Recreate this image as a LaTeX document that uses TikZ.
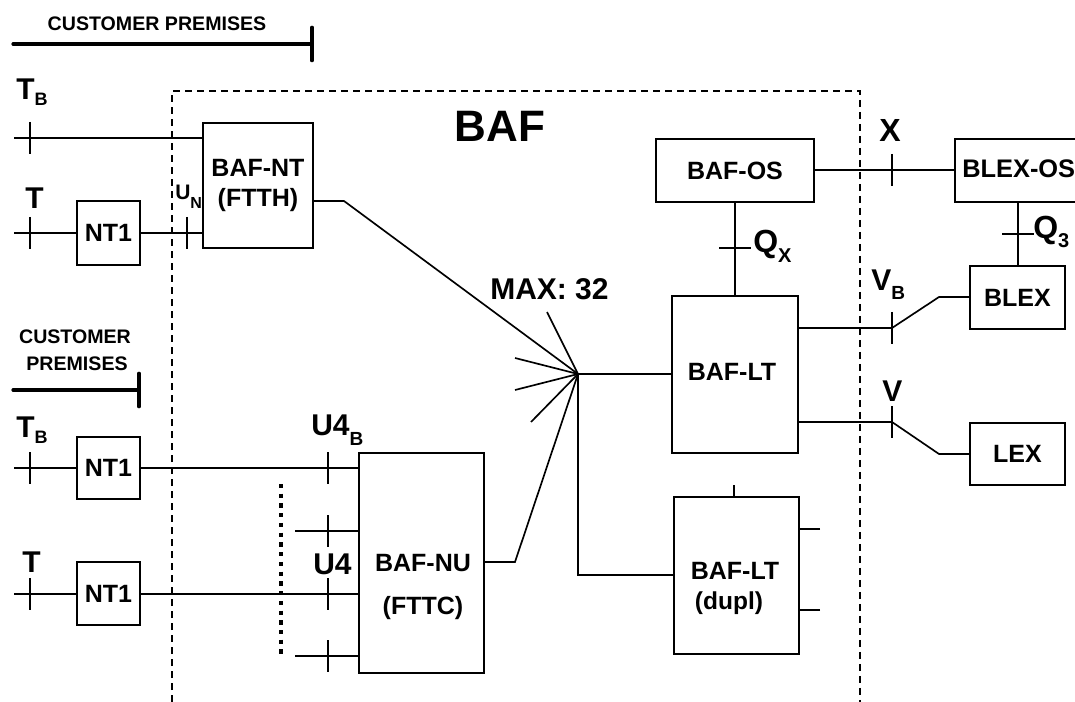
\documentclass[tikz,border=0pt]{standalone}
\usepackage{fontspec}
\setmainfont{Liberation Sans}[BoldFont={Liberation Sans Bold}]
\newcommand{\fpx}[1]{\fontsize{\dimexpr #1pt*3/4\relax}{\dimexpr #1pt*9/10\relax}\selectfont\bfseries}
\newcommand{\lsub}[3][6]{\raisebox{-\dimexpr #1pt*3/4\relax}{\fpx{#3}#2}}
\tikzset{
  x=0.75pt,y=-0.75pt,
  conn/.style={line width=1.25pt,line cap=butt,line join=miter},
  thickln/.style={line width=2.4pt,line cap=round},
  box/.style={draw,line width=1.3pt,inner sep=0pt,align=center,font=\fpx{25}},
  lab/.style={anchor=base west,inner sep=0pt},
  txt/.style={inner sep=0pt,align=center},
  tickln/.style={line width=1.2pt},
  bafline/.style={line width=1.1pt,dash pattern=on 5.2pt off 3.8pt},
  dotline/.style={line width=3pt,dash pattern=on 3.2pt off 4.1pt}
}
% name, x1, y1, width, height, text
\newcommand{\bx}[6]{\node[box,minimum width=0.75pt*#4,minimum height=0.75pt*#5] (#1) at (#2+#4/2,#3+#5/2) {#6};}
% vertical tick at a named point
\newcommand{\vtick}[3]{\coordinate (#1) at (#2,#3); \draw[tickln] ([yshift=12pt]#1) -- ([yshift=-12pt]#1);}
\begin{document}
\begin{tikzpicture}
\clip (0,0) rectangle (1075,702);
\fill[white] (0,0) rectangle (1075,702);

% BAF boundary
\coordinate (bafA) at (172,702);
\coordinate (bafB) at (172,91);
\coordinate (bafC) at (860,91);
\coordinate (bafD) at (860,702);
\draw[bafline] (bafA) -- (bafB) -- (bafC) -- (bafD);
\node[txt,font=\fpx{44}] (baftitle) at (500,126) {BAF};

% customer premises markers
\node[txt,font=\fpx{19.6}] (cp1) at (157,24) {CUSTOMER PREMISES};
\coordinate (cp1a) at (13,44); \coordinate (cp1b) at (312,44);
\draw[thickln] (cp1a) -- (cp1b);
\draw[thickln] ([yshift=12.5pt]cp1b) -- ([yshift=-12.5pt]cp1b);
\node[txt,font=\fpx{19.6}] (cp2a) at (75,337) {CUSTOMER};
\node[txt,font=\fpx{19.6}] (cp2b) at (77,364) {PREMISES};
\coordinate (cp2s) at (13,390); \coordinate (cp2e) at (139,390);
\draw[thickln] (cp2s) -- (cp2e);
\draw[thickln] ([yshift=12.5pt]cp2e) -- ([yshift=-12.5pt]cp2e);

% boxes
\bx{bafnt}{203}{123}{110}{125}{BAF-NT\\[0.1pt](FTTH)}
\bx{ntA}{77}{201}{63}{64}{NT1}
\bx{ntB}{77}{437}{63}{62}{NT1}
\bx{ntC}{77}{562}{63}{63}{NT1}
\bx{nu}{359}{453}{125}{220}{}
\bx{ltA}{672}{296}{126}{157}{}
\bx{ltB}{674}{497}{125}{157}{}
\bx{os}{656}{139}{158}{63}{BAF-OS}
\bx{blexos}{955}{139}{140}{63}{}
\bx{blex}{970}{266}{95}{63}{BLEX}
\bx{lex}{970}{423}{95}{62}{LEX}
\node[txt,font=\fpx{25}] (nutA) at (423,563) {BAF-NU};
\node[txt,font=\fpx{25}] (nutB) at (423,608) {(FTTC)};
\node[txt,font=\fpx{25}] (ltAt) at (732,372) {BAF-LT};
\node[txt,font=\fpx{25}] (ltBt) at (735,571) {BAF-LT};
\node[txt,font=\fpx{24.5}] (ltBd) at (729,603) {(dupl)};
\node[anchor=west,inner sep=0pt,font=\fpx{25.4}] (blexost) at (962,169) {BLEX-OS};

% T_B to BAF-NT
\vtick{tb1}{30}{138}
\coordinate (tb1s) at (14,138);
\draw[conn] (tb1s) -- (tb1s -| bafnt.west);
% T, NT1, U_N, BAF-NT
\vtick{t1}{30}{233}
\coordinate (t1s) at (14,233);
\draw[conn] (t1s) -- (t1s -| ntA.west);
\vtick{un}{187}{233}
\draw[conn] (un -| ntA.east) -- (un -| bafnt.west);

% T_B lower
\vtick{tb2}{30}{468}
\coordinate (tb2s) at (14,468);
\draw[conn] (tb2s) -- (tb2s -| ntB.west);
\vtick{u4b}{328}{468}
\draw[conn] (u4b -| ntB.east) -- (u4b -| nu.west);
% spare
\vtick{u4x}{328}{531}
\coordinate (u4xs) at (295,531);
\draw[conn] (u4xs) -- (u4xs -| nu.west);
% T lower
\vtick{t2}{30}{594}
\coordinate (t2s) at (14,594);
\draw[conn] (t2s) -- (t2s -| ntC.west);
\vtick{u4}{328}{594}
\draw[conn,line width=1.6pt] (u4 -| ntC.east) -- (u4 -| nu.west);
\vtick{u4y}{328}{656}
\coordinate (u4ys) at (295,656);
\draw[conn] (u4ys) -- (u4ys -| nu.west);
% dotted
\coordinate (dotA) at (281,484); \coordinate (dotB) at (281,654);
\draw[dotline] (dotA) -- (dotB);

% fan
\coordinate (hub) at (578,374);
\coordinate (ntbend) at (344,201);
\coordinate (nubend) at (515,562);
\coordinate (f1) at (547,312);
\coordinate (f2) at (515,358);
\coordinate (f3) at (515,390);
\coordinate (f4) at (531,422);
\coordinate (dupbend) at (578,575);
\draw[conn] (ntbend -| bafnt.east) -- (ntbend) -- (hub);
\draw[conn] (nubend -| nu.east) -- (nubend) -- (hub);
\draw[conn] (f1) -- (hub);
\draw[conn] (f2) -- (hub);
\draw[conn] (f3) -- (hub);
\draw[conn] (f4) -- (hub);
\draw[conn] (hub) -- (hub -| ltA.west);
\draw[conn] (hub) -- (dupbend) -- (dupbend -| ltB.west);
\node[lab,font=\fpx{30}] (maxl) at (490,300) {MAX: 32};

% BAF-LT dupl stubs
\coordinate (st1) at (734,485);
\coordinate (st2) at (820,529);
\coordinate (st3) at (820,610);
\draw[conn] (st1) -- (st1 |- ltB.north);
\draw[conn] (st2) -- (st2 -| ltB.east);
\draw[conn] (st3) -- (st3 -| ltB.east);

% OS connections
\vtick{xp}{892}{170}
\draw[conn] (xp -| os.east) -- (xp -| blexos.west);
\coordinate (qx) at (735,248);
\draw[conn] (qx |- os.south) -- (qx |- ltA.north);
\draw[tickln] ([xshift=-12pt]qx) -- ([xshift=12pt]qx);
\coordinate (q3) at (1018,234);
\draw[conn] (q3 |- blexos.south) -- (q3 |- blex.north);
\draw[tickln] ([xshift=-12pt]q3) -- ([xshift=12pt]q3);

% V_B and V
\vtick{vb}{892}{328}
\coordinate (vbbend) at (939,297);
\draw[conn] (vb -| ltA.east) -- (vb) -- (vbbend) -- (vbbend -| blex.west);
\vtick{vv}{892}{422}
\coordinate (vvbend) at (939,454);
\draw[conn] (vv -| ltA.east) -- (vv) -- (vvbend) -- (vvbend -| lex.west);

% interface labels
\node[lab,font=\fpx{30}] (lTB1) at (16,100) {T\lsub{B}{18}};
\node[lab,font=\fpx{30}] (lT1) at (25,209) {T};
\node[lab,font=\fpx{21}] (lUN) at (175,200) {U\lsub[9]{N}{16}};
\node[lab,font=\fpx{30}] (lTB2) at (16,437) {T\lsub{B}{18}};
\node[lab,font=\fpx{30}] (lT2) at (22,572) {T};
\node[lab,font=\fpx{30}] (lU4B) at (311,435) {U4\lsub[11]{B}{19}};
\node[lab,font=\fpx{30}] (lU4) at (313,574) {U4};
\node[lab,font=\fpx{32}] (lX) at (879,142) {X};
\node[lab,font=\fpx{32}] (lQX) at (753,253) {Q\lsub[10]{X}{20}};
\node[lab,font=\fpx{32}] (lQ3) at (1033,239) {Q\lsub[9]{3}{20}};
\node[lab,font=\fpx{30}] (lVB) at (871,291) {V\lsub[9]{B}{19}};
\node[lab,font=\fpx{30}] (lV) at (882,402) {V};
\end{tikzpicture}
\end{document}
